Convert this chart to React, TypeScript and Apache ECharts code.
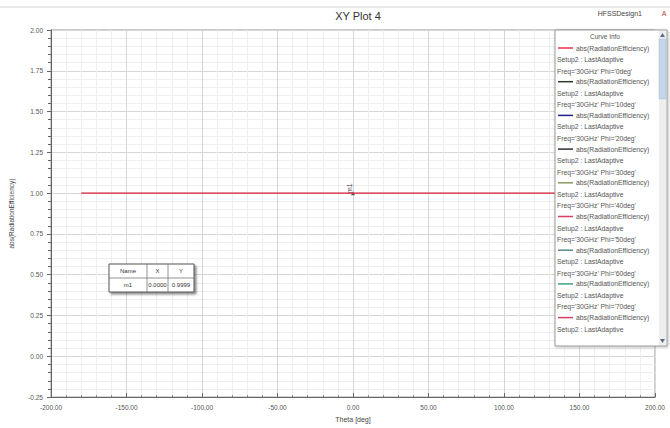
import React, { useEffect, useRef } from "react";
import * as echarts from "echarts";

const thetaDeg = [-180, -150, -120, -90, -60, -30, 0, 30, 60, 90, 120, 150, 180];
const radEff = [1.0, 1.0, 1.0, 1.0, 1.0, 1.0, 1.0, 1.0, 1.0, 1.0, 1.0, 1.0, 1.0];
const phiDeg = [0, 10, 20, 30, 40, 50, 60, 70, 80];
const curveColors = ["#e8304a", "#2a3a2a", "#20208a", "#303030", "#8a9a60", "#d84060", "#5a8a8a", "#40a080", "#d04060"];
const xTicks = [-200, -150, -100, -50, 0, 50, 100, 150, 200];
const yTicks = [-0.25, 0, 0.25, 0.5, 0.75, 1.0, 1.25, 1.5, 1.75, 2.0];
const markerName = "m1";
const markerX = 0.0;
const markerY = 0.9999;

const FONT = "Liberation Sans, Arial, sans-serif";

export default function App() {
  const ref = useRef<HTMLDivElement>(null);
  useEffect(() => {
    const chart = echarts.init(ref.current!, null, { renderer: "svg" });

    const series: any[] = [];
    const order = phiDeg.map((_, i) => i).reverse();
    order.forEach((i) => {
      series.push({
        type: "line",
        name: `Phi=${phiDeg[i]}deg`,
        data: thetaDeg.map((t, k) => [t, radEff[k]]),
        showSymbol: false,
        lineStyle: { color: curveColors[i], width: i === 0 ? 1.2 : 1, opacity: i === 0 ? 1 : 0.05 },
        itemStyle: { color: curveColors[i] },
        z: 10 - i,
        markPoint:
          i === 0
            ? {
                symbol: "triangle",
                symbolSize: 4,
                itemStyle: { color: "#555" },
                data: [{ coord: [markerX, radEff[thetaDeg.indexOf(markerX)]] }],
                label: {
                  show: true,
                  formatter: markerName,
                  position: "top",
                  rotate: 90,
                  distance: 3,
                  fontSize: 7,
                  fontFamily: FONT,
                  color: "#444",
                },
              }
            : undefined,
      });
    });

    const boxX = 555, boxY = 30, boxW = 112, boxH = 316;
    const boxBottom = boxY + boxH;
    const legendEls: any[] = [];
    legendEls.push({
      type: "rect",
      shape: { x: boxX, y: boxY, width: boxW, height: boxH },
      style: { fill: "#fff", stroke: "#9a9a9a", lineWidth: 1, shadowBlur: 3, shadowColor: "rgba(0,0,0,0.25)", shadowOffsetX: 1, shadowOffsetY: 1 },
      z: 100,
    });
    legendEls.push({ type: "rect", shape: { x: 659, y: boxY + 1, width: 7, height: boxH - 2 }, style: { fill: "#eeeeee" }, z: 101 });
    legendEls.push({ type: "rect", shape: { x: 659, y: 39, width: 7, height: 60 }, style: { fill: "#c4d6ea", stroke: "#a8bcd4", lineWidth: 0.5 }, z: 102 });
    legendEls.push({ type: "polygon", shape: { points: [[660, 37], [665, 37], [662.5, 33]] }, style: { fill: "#5a6a8a" }, z: 103 });
    legendEls.push({ type: "polygon", shape: { points: [[660, boxBottom - 7], [665, boxBottom - 7], [662.5, boxBottom - 3]] }, style: { fill: "#5a6a8a" }, z: 103 });
    legendEls.push({
      type: "text",
      x: 605, y: 36,
      style: { text: "Curve Info", fontSize: 6.5, fontFamily: FONT, fill: "#555", align: "center", verticalAlign: "middle" },
      z: 104,
    });
    phiDeg.forEach((phi, i) => {
      const y0 = 48 + i * 33.7;
      const rows = [
        { x: 576, text: "abs(RadiationEfficiency)", w: 82 },
        { x: 557, text: "Setup2 : LastAdaptive", w: 100 },
        { x: 557, text: `Freq='30GHz' Phi='${phi}deg'`, w: 100 },
      ];
      rows.forEach((r, k) => {
        const y = y0 + k * 11.5;
        if (y > boxBottom - 10) return;
        legendEls.push({
          type: "text",
          x: r.x, y,
          style: { text: r.text, fontSize: 6.8, fontFamily: FONT, fill: "#555", verticalAlign: "middle", width: r.w, overflow: "truncate", ellipsis: "" },
          z: 104,
        });
      });
      legendEls.push({
        type: "line",
        shape: { x1: 558, y1: y0, x2: 573, y2: y0 },
        style: { stroke: curveColors[i], lineWidth: 1.5 },
        z: 104,
      });
    });

    const tX = 109, tY = 264, colX = [109, 147, 168, 194], rowH = 14;
    const tableEls: any[] = [
      { type: "rect", shape: { x: tX, y: tY, width: colX[3] - tX, height: rowH * 2 }, style: { fill: "#fff", stroke: "#555", lineWidth: 1, shadowBlur: 2, shadowColor: "rgba(0,0,0,0.45)", shadowOffsetX: 2, shadowOffsetY: 2 }, z: 100 },
      { type: "line", shape: { x1: tX, y1: tY + rowH, x2: colX[3], y2: tY + rowH }, style: { stroke: "#777", lineWidth: 0.8 }, z: 101 },
      { type: "line", shape: { x1: colX[1], y1: tY, x2: colX[1], y2: tY + 2 * rowH }, style: { stroke: "#777", lineWidth: 0.8 }, z: 101 },
      { type: "line", shape: { x1: colX[2], y1: tY, x2: colX[2], y2: tY + 2 * rowH }, style: { stroke: "#777", lineWidth: 0.8 }, z: 101 },
    ];
    const cells = [
      ["Name", "X", "Y"],
      [markerName, markerX.toFixed(4), markerY.toFixed(4)],
    ];
    cells.forEach((row, r) => {
      row.forEach((c, k) => {
        tableEls.push({
          type: "text",
          x: (colX[k] + colX[k + 1]) / 2,
          y: tY + rowH * r + rowH / 2,
          style: { text: c, fontSize: 6, fontFamily: FONT, fill: "#333", align: "center", verticalAlign: "middle" },
          z: 102,
        });
      });
    });

    chart.setOption({
      animation: false,
      backgroundColor: "#ffffff",
      title: {
        text: "XY Plot 4",
        left: 353,
        top: 5,
        textAlign: "center",
        textStyle: { fontSize: 11, fontWeight: "normal", color: "#333", fontFamily: FONT },
      },
      grid: { left: 49, right: 15, top: 30, bottom: 25, show: true, borderColor: "#999", borderWidth: 1, backgroundColor: "#fff" },
      xAxis: {
        type: "value",
        min: xTicks[0],
        max: xTicks[xTicks.length - 1],
        interval: 50,
        name: "Theta [deg]",
        nameLocation: "middle",
        nameGap: 15,
        nameTextStyle: { fontSize: 7, color: "#444", fontFamily: FONT },
        axisLine: { show: true, onZero: false, lineStyle: { color: "#666" } },
        axisTick: { show: true, inside: true, length: 4, lineStyle: { color: "#666" } },
        minorTick: { show: true, splitNumber: 5, length: 2, lineStyle: { color: "#888" } },
        axisLabel: { fontSize: 6.5, color: "#555", fontFamily: FONT, margin: 7, formatter: (v: number) => v.toFixed(2) },
        splitLine: { show: true, lineStyle: { color: "#d6d6d6", width: 1 } },
        minorSplitLine: { show: true, lineStyle: { color: "#eeeeee", width: 1 } },
      },
      yAxis: {
        type: "value",
        min: yTicks[0],
        max: yTicks[yTicks.length - 1],
        interval: 0.25,
        name: "abs(RadiationEfficiency)",
        nameLocation: "middle",
        nameGap: 36,
        nameTextStyle: { fontSize: 6.5, color: "#444", fontFamily: FONT },
        axisLine: { show: true, onZero: false, lineStyle: { color: "#666" } },
        axisTick: { show: true, inside: false, length: 4, lineStyle: { color: "#666" } },
        minorTick: { show: true, splitNumber: 5, length: 3, lineStyle: { color: "#666" } },
        axisLabel: { fontSize: 6.5, color: "#555", fontFamily: FONT, margin: 8, formatter: (v: number) => v.toFixed(2) },
        splitLine: { show: true, lineStyle: { color: "#d6d6d6", width: 1 } },
        minorSplitLine: { show: true, lineStyle: { color: "#eeeeee", width: 1 } },
      },
      series,
      graphic: [
        { type: "line", shape: { x1: 0, y1: 7, x2: 670, y2: 7 }, style: { stroke: "#d4d4d4", lineWidth: 1 }, z: 50 },
        {
          type: "text",
          x: 642, y: 13,
          style: { text: "HFSSDesign1", fontSize: 7, fontFamily: FONT, fill: "#444", align: "right", verticalAlign: "middle" },
          z: 50,
        },
        {
          type: "text",
          x: 664, y: 13,
          style: { text: "A", fontSize: 7, fontFamily: FONT, fill: "#c04040", align: "center", verticalAlign: "middle" },
          z: 50,
        },
        ...legendEls,
        ...tableEls,
      ],
    });
    return () => chart.dispose();
  }, []);
  return <div ref={ref} style={{ position: "fixed", left: 0, top: 0, width: 670, height: 428, background: "#fff" }} />;
}
